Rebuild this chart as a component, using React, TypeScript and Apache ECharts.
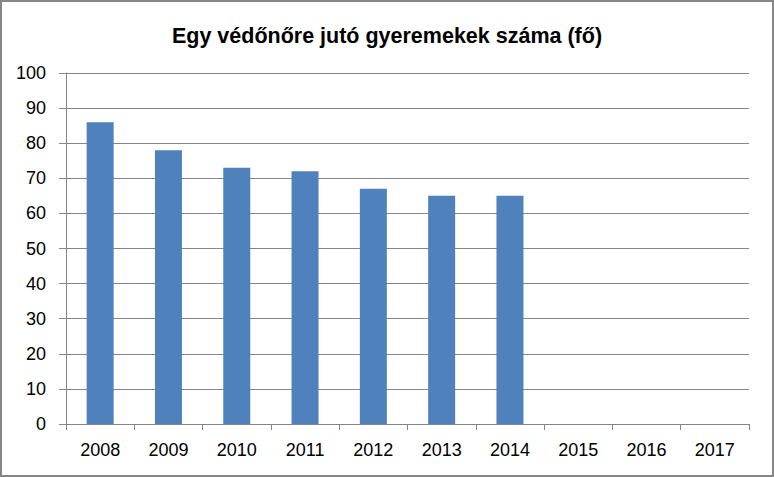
import React, { useEffect, useRef } from "react";
import * as echarts from "echarts";

const titleText = "Egy védőnőre jutó gyeremekek száma (fő)";
const years = ["2008", "2009", "2010", "2011", "2012", "2013", "2014", "2015", "2016", "2017"];
const values: (number | null)[] = [86, 78, 73, 72, 67, 65, 65, null, null, null];

export default function App() {
  const ref = useRef<HTMLDivElement>(null);
  useEffect(() => {
    document.body.style.margin = "0";
    const chart = echarts.init(ref.current!, null, { renderer: "svg" });
    const gray = "#868686";
    const font = "'Liberation Sans', Arial, sans-serif";
    chart.setOption({
      animation: false,
      backgroundColor: "#ffffff",
      title: {
        text: titleText,
        left: "center",
        top: 20,
        textStyle: { fontFamily: font, fontWeight: "bold", fontSize: 21.5, color: "#000" },
      },
      graphic: [
        {
          type: "rect",
          shape: { x: 1, y: 1, width: 772, height: 475 },
          style: { fill: "none", stroke: gray, lineWidth: 2 },
          silent: true,
        },
      ],
      grid: { left: 66, right: 25, top: 73, bottom: 53 },
      xAxis: {
        type: "category",
        data: years,
        boundaryGap: true,
        axisLine: { lineStyle: { color: gray, width: 1 } },
        axisTick: { show: true, alignWithLabel: false, length: 6, lineStyle: { color: gray } },
        axisLabel: { fontFamily: font, fontSize: 18, color: "#000", margin: 17 },
      },
      yAxis: {
        type: "value",
        min: 0,
        max: 100,
        interval: 10,
        axisLine: { show: true, lineStyle: { color: gray, width: 1 } },
        axisTick: { show: true, length: 7, lineStyle: { color: gray } },
        splitLine: { lineStyle: { color: gray, width: 1 } },
        axisLabel: { fontFamily: font, fontSize: 18, color: "#000", margin: 20 },
      },
      series: [
        {
          type: "bar",
          data: values,
          barWidth: 27,
          itemStyle: { color: "#4f81bd" },
        },
      ],
    });
    return () => chart.dispose();
  }, []);
  return <div ref={ref} style={{ width: 774, height: 477, position: "absolute", left: 0, top: 0 }} />;
}
